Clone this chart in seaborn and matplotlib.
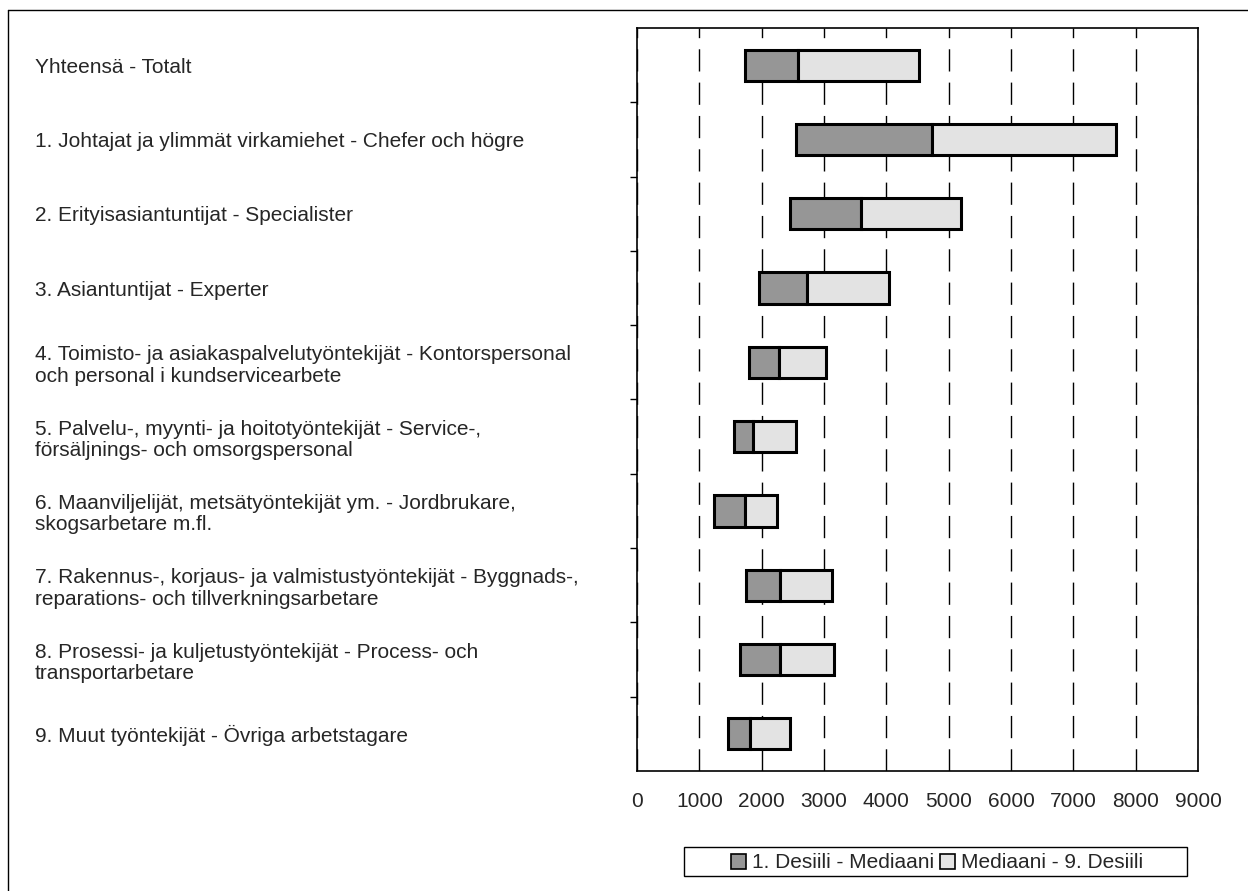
import numpy as np
import pandas as pd
import matplotlib
matplotlib.use("Agg")
import matplotlib.pyplot as plt
from matplotlib.lines import Line2D
from matplotlib.patches import Patch, Rectangle
import seaborn as sns

categories = [
    "Yhteensä - Totalt",
    "1. Johtajat ja ylimmät virkamiehet - Chefer och högre",
    "2. Erityisasiantuntijat - Specialister",
    "3. Asiantuntijat - Experter",
    "4. Toimisto- ja asiakaspalvelutyöntekijät - Kontorspersonal\noch personal i kundservicearbete",
    "5. Palvelu-, myynti- ja hoitotyöntekijät - Service-,\nförsäljnings- och omsorgspersonal",
    "6. Maanviljelijät, metsätyöntekijät ym. - Jordbrukare,\nskogsarbetare m.fl.",
    "7. Rakennus-, korjaus- ja valmistustyöntekijät - Byggnads-,\nreparations- och tillverkningsarbetare",
    "8. Prosessi- ja kuljetustyöntekijät - Process- och\ntransportarbetare",
    "9. Muut työntekijät - Övriga arbetstagare",
]
decile1 = [1730, 2550, 2450, 1950, 1790, 1560, 1230, 1750, 1650, 1460]
median = [2590, 4740, 3590, 2720, 2280, 1860, 1730, 2300, 2300, 1820]
decile9 = [4520, 7680, 5190, 4050, 3040, 2550, 2250, 3130, 3160, 2450]
series_labels = ["1. Desiili - Mediaani", "Mediaani - 9. Desiili"]
xticks = [0, 1000, 2000, 3000, 4000, 5000, 6000, 7000, 8000, 9000]

df = pd.DataFrame({"cat": categories, "d1": decile1, "med": median, "d9": decile9})
df["w_low"] = df["med"] - df["d1"]
df["w_high"] = df["d9"] - df["med"]

sns.set_theme(style="white")
plt.rcParams["font.family"] = ["Liberation Sans", "DejaVu Sans"]

W, H = 1248, 891
fig = plt.figure(figsize=(W / 100, H / 100), dpi=100)
ax = fig.add_axes([637 / W, 1 - 771 / H, (1198 - 637) / W, (771 - 28) / H])

dark = "#969696"
light = "#e3e3e3"
bw = 0.42
sns.barplot(data=df, x="w_low", y="cat", left=df["d1"].values, orient="h",
            color=dark, saturation=1, width=bw, edgecolor="black", linewidth=2.2,
            ax=ax, zorder=3)
sns.barplot(data=df, x="w_high", y="cat", left=df["med"].values, orient="h",
            color=light, saturation=1, width=bw, edgecolor="black", linewidth=2.2,
            ax=ax, zorder=3)

ax.set_xlim(0, 9000)
ax.set_ylim(len(categories) - 0.5, -0.5)
ax.set_xticks(xticks)
ax.set_xticklabels([str(t) for t in xticks], fontsize=15)
ax.set_xlabel("")
ax.set_ylabel("")

ax.xaxis.grid(True, linestyle=(0, (16, 8)), color="black", linewidth=1.0)
ax.yaxis.grid(False)
ax.set_axisbelow(True)

for s in ax.spines.values():
    s.set_visible(True)
    s.set_color("black")
    s.set_linewidth(1.2)

ax.tick_params(axis="x", direction="inout", length=8, width=1, color="black", pad=11)
ax.set_yticks(np.arange(len(categories)))
ax.set_yticklabels(categories, fontsize=15, linespacing=1.17)
ax.tick_params(axis="y", which="major", length=0, pad=(637 - 35) * 0.72)
for lab in ax.get_yticklabels():
    lab.set_horizontalalignment("left")
ax.set_yticks(np.arange(0.5, len(categories) - 0.5, 1.0), minor=True)
ax.tick_params(axis="y", which="minor", direction="out", length=5, width=1, color="black", left=True)

handles = [Patch(facecolor=dark, edgecolor="black", linewidth=1.2),
           Patch(facecolor=light, edgecolor="black", linewidth=1.2)]
leg = fig.legend(handles, series_labels, loc="center", bbox_to_anchor=(937 / W, 1 - 863 / H),
                 ncol=2, fontsize=15, frameon=False, handlelength=0.7,
                 handleheight=0.7, handletextpad=0.3, columnspacing=0.3,
                 borderpad=0.3, borderaxespad=0)
# legend frame box
fig.add_artist(Rectangle((684 / W, 1 - 876 / H), (1187 - 684) / W, (876 - 847) / H,
                         transform=fig.transFigure, facecolor="none", edgecolor="black", lw=1.0))

# outer frame (top and left edges)
fig.add_artist(Line2D([8 / W, 8 / W], [0, 1 - 10 / H], transform=fig.transFigure, color="black", lw=1))
fig.add_artist(Line2D([8 / W, 1], [1 - 10 / H, 1 - 10 / H], transform=fig.transFigure, color="black", lw=1))

fig.savefig("out.png", dpi=100, facecolor="white")
